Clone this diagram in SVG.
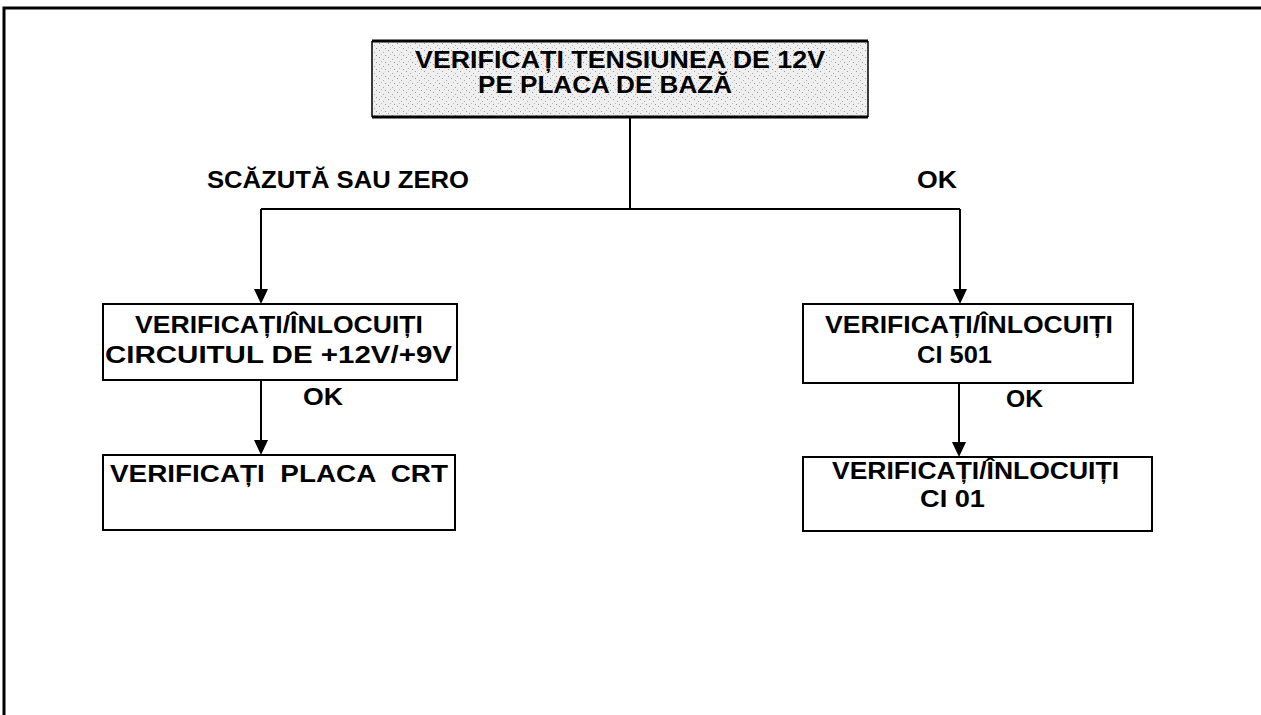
<svg xmlns="http://www.w3.org/2000/svg" width="1261" height="715" viewBox="0 0 1261 715">
<style>
.box{fill:#fff;stroke:#000;stroke-width:2}
.t{font-family:"Liberation Sans",Arial,sans-serif;font-weight:bold;font-size:24px;fill:#000}
.c{fill:none;stroke:#000;stroke-width:2}
</style>
<defs>
<pattern id="stip" width="9" height="7" patternUnits="userSpaceOnUse">
<rect width="9" height="7" fill="#efefef"/>
<rect x="1" y="1" width="1" height="1" fill="#999"/>
<rect x="5" y="3" width="1" height="1" fill="#aaa"/>
<rect x="3" y="5" width="1" height="1" fill="#bbb"/>
<rect x="7" y="6" width="1" height="1" fill="#999"/>
</pattern>
</defs>
<rect width="1261" height="715" fill="#fff"/>
<g id="frame">
<path d="M4,715 L4,8 L1261,8" fill="none" stroke="#000" stroke-width="3"/>
</g>
<g id="connectors">
<path class="c" d="M630,117 L630,209"/>
<path class="c" d="M261,209 L960,209"/>
<path class="c" d="M261,209 L261,289"/>
<path d="M254,289 L268,289 L261,304 Z" fill="#000"/>
<path class="c" d="M960,209 L960,289"/>
<path d="M953,289 L967,289 L960,304 Z" fill="#000"/>
<path class="c" d="M261,380 L261,440"/>
<path d="M254,440 L268,440 L261,455 Z" fill="#000"/>
<path class="c" d="M959,383 L959,442"/>
<path d="M952,442 L966,442 L959,457 Z" fill="#000"/>
<text class="t" x="207" y="188" textLength="262" lengthAdjust="spacingAndGlyphs">SCĂZUTĂ SAU ZERO</text>
<text class="t" x="917" y="188" textLength="40" lengthAdjust="spacingAndGlyphs">OK</text>
<text class="t" x="303" y="405" textLength="40" lengthAdjust="spacingAndGlyphs">OK</text>
<text class="t" x="1006" y="407" textLength="37" lengthAdjust="spacingAndGlyphs">OK</text>
</g>
<g id="n-top">
<rect x="372" y="41" width="496" height="76" fill="url(#stip)"/>
<path d="M372,41 L868,41 M372,117 L868,117" stroke="#000" stroke-width="3"/>
<path d="M372,41 L372,117 M868,41 L868,117" stroke="#000" stroke-width="1.5"/>
<text class="t" x="415" y="68" font-size="23" textLength="410" lengthAdjust="spacingAndGlyphs">VERIFICAȚI TENSIUNEA DE 12V</text>
<text class="t" x="478" y="93" font-size="23" textLength="254" lengthAdjust="spacingAndGlyphs">PE PLACA DE BAZĂ</text>
</g>
<g id="n-left1">
<rect class="box" x="103" y="304" width="354" height="76"/>
<text class="t" x="135" y="333" textLength="288" lengthAdjust="spacingAndGlyphs">VERIFICAȚI/ÎNLOCUIȚI</text>
<text class="t" x="105" y="363" textLength="347" lengthAdjust="spacingAndGlyphs">CIRCUITUL DE +12V/+9V</text>
</g>
<g id="n-left2">
<rect class="box" x="103" y="455" width="352" height="75"/>
<text class="t" x="110" y="482" textLength="338" lengthAdjust="spacingAndGlyphs" style="white-space:pre">VERIFICAȚI  PLACA  CRT</text>
</g>
<g id="n-right1">
<rect class="box" x="803" y="304" width="330" height="79"/>
<text class="t" x="825" y="333" textLength="288" lengthAdjust="spacingAndGlyphs">VERIFICAȚI/ÎNLOCUIȚI</text>
<text class="t" x="917" y="363" textLength="75" lengthAdjust="spacingAndGlyphs">CI 501</text>
</g>
<g id="n-right2">
<rect class="box" x="803" y="457" width="349" height="74"/>
<text class="t" x="832" y="479" font-size="21" textLength="287" lengthAdjust="spacingAndGlyphs">VERIFICAȚI/ÎNLOCUIȚI</text>
<text class="t" x="920" y="507" font-size="21" textLength="65" lengthAdjust="spacingAndGlyphs">CI 01</text>
</g>
</svg>
